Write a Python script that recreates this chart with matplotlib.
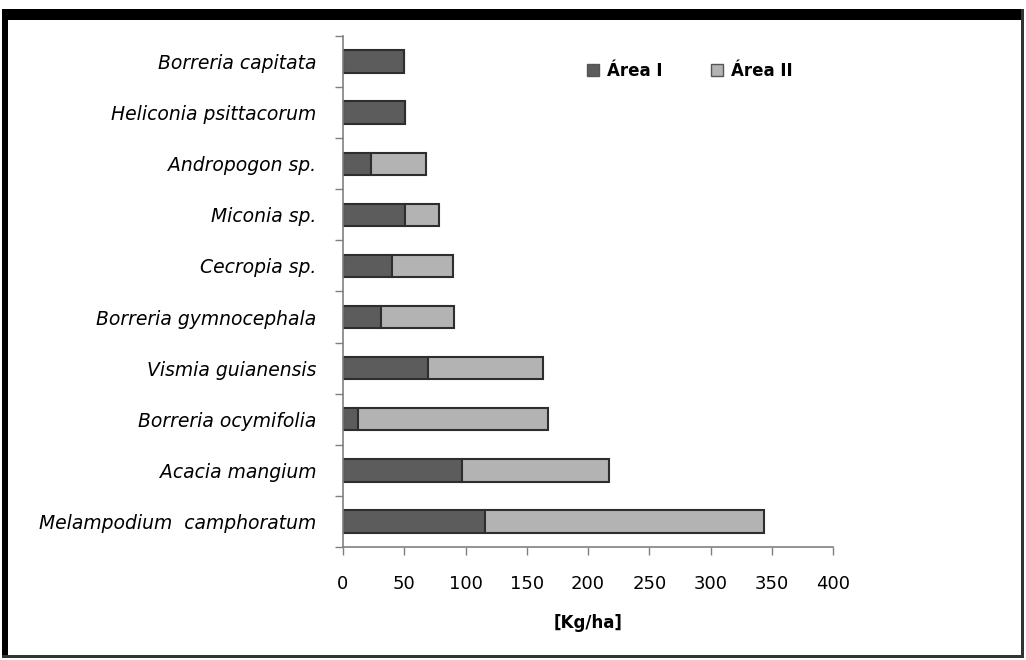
import matplotlib
matplotlib.use("Agg")
import matplotlib.pyplot as plt
from matplotlib.patches import Rectangle, Patch
import numpy as np

plt.rcParams['font.family'] = ['DejaVu Sans']

# Species, listed from bottom to top of the chart
species = [
    "Melampodium  camphoratum",
    "Acacia mangium",
    "Borreria ocymifolia",
    "Vismia guianensis",
    "Borreria gymnocephala",
    "Cecropia sp.",
    "Miconia sp.",
    "Andropogon sp.",
    "Heliconia psittacorum",
    "Borreria capitata",
]
area_1 = [116, 97, 12, 69, 31, 40, 51, 23, 51, 50]
area_2 = [228, 120, 155, 94, 60, 50, 27, 45, 0, 0]
series_names = ["Área I", "Área II"]
x_ticks = [0, 50, 100, 150, 200, 250, 300, 350, 400]
x_label = "[Kg/ha]"

dark = "#5c5c5c"
light = "#b3b3b3"
edge = "#2e2e2e"

W, H = 1026, 660
fig = plt.figure(figsize=(W / 100, H / 100), dpi=100)
fig.patch.set_facecolor("white")

ax = fig.add_axes([343 / W, 1 - 547 / H, (833 - 343) / W, (547 - 36) / H])

y = np.arange(len(species))
h = 0.44
ax.barh(y, area_1, height=h, color=dark, edgecolor=edge, linewidth=1.5)
ax.barh(y, area_2, left=area_1, height=h, color=light, edgecolor=edge, linewidth=1.5)

ax.set_xlim(0, 400)
ax.set_ylim(-0.5, len(species) - 0.5)

# x axis
ax.set_xticks(x_ticks)
ax.set_xticklabels([str(v) for v in x_ticks])
ax.tick_params(axis="x", direction="out", length=6, width=1, color="#808080",
               pad=14, labelsize=13)
ax.set_xlabel(x_label, fontsize=12, fontweight="bold", labelpad=15)

# y axis: tick marks at category boundaries, labels at centres
ax.set_yticks(np.arange(-0.5, len(species), 1.0))
ax.set_yticklabels([])
ax.set_yticks(y, minor=True)
ax.set_yticklabels(species, minor=True, fontstyle="italic", fontsize=13.5)
ax.tick_params(axis="y", which="major", direction="out", length=6, width=1,
               color="#808080")
ax.tick_params(axis="y", which="minor", length=0, pad=19)

for side in ("top", "right"):
    ax.spines[side].set_visible(False)
for side in ("left", "bottom"):
    ax.spines[side].set_color("#808080")
    ax.spines[side].set_linewidth(1.2)

# legend
handles = [Patch(facecolor=dark, edgecolor="#555555", label=series_names[0]),
           Patch(facecolor=light, edgecolor="#555555", label=series_names[1])]
fig.legend(handles=handles, loc="center left", bbox_to_anchor=(572 / W, 1 - 71 / H),
           ncol=2, frameon=False, handlelength=0.7, handleheight=0.7,
           handletextpad=0.5, columnspacing=2.9,
           prop={"weight": "bold", "size": 12})

# outer frame of the figure
def px_rect(x0, y0, x1, y1, color):
    fig.add_artist(Rectangle((x0 / W, 1 - y1 / H), (x1 - x0) / W, (y1 - y0) / H,
                             transform=fig.transFigure, facecolor=color,
                             edgecolor="none", zorder=10))

px_rect(2, 9, 1024, 20, "black")
px_rect(2, 9, 8, 658, "black")
px_rect(1021, 9, 1024, 658, "#333333")
px_rect(2, 655, 1024, 658, "#333333")

fig.savefig("out.png", dpi=100, facecolor="white")
